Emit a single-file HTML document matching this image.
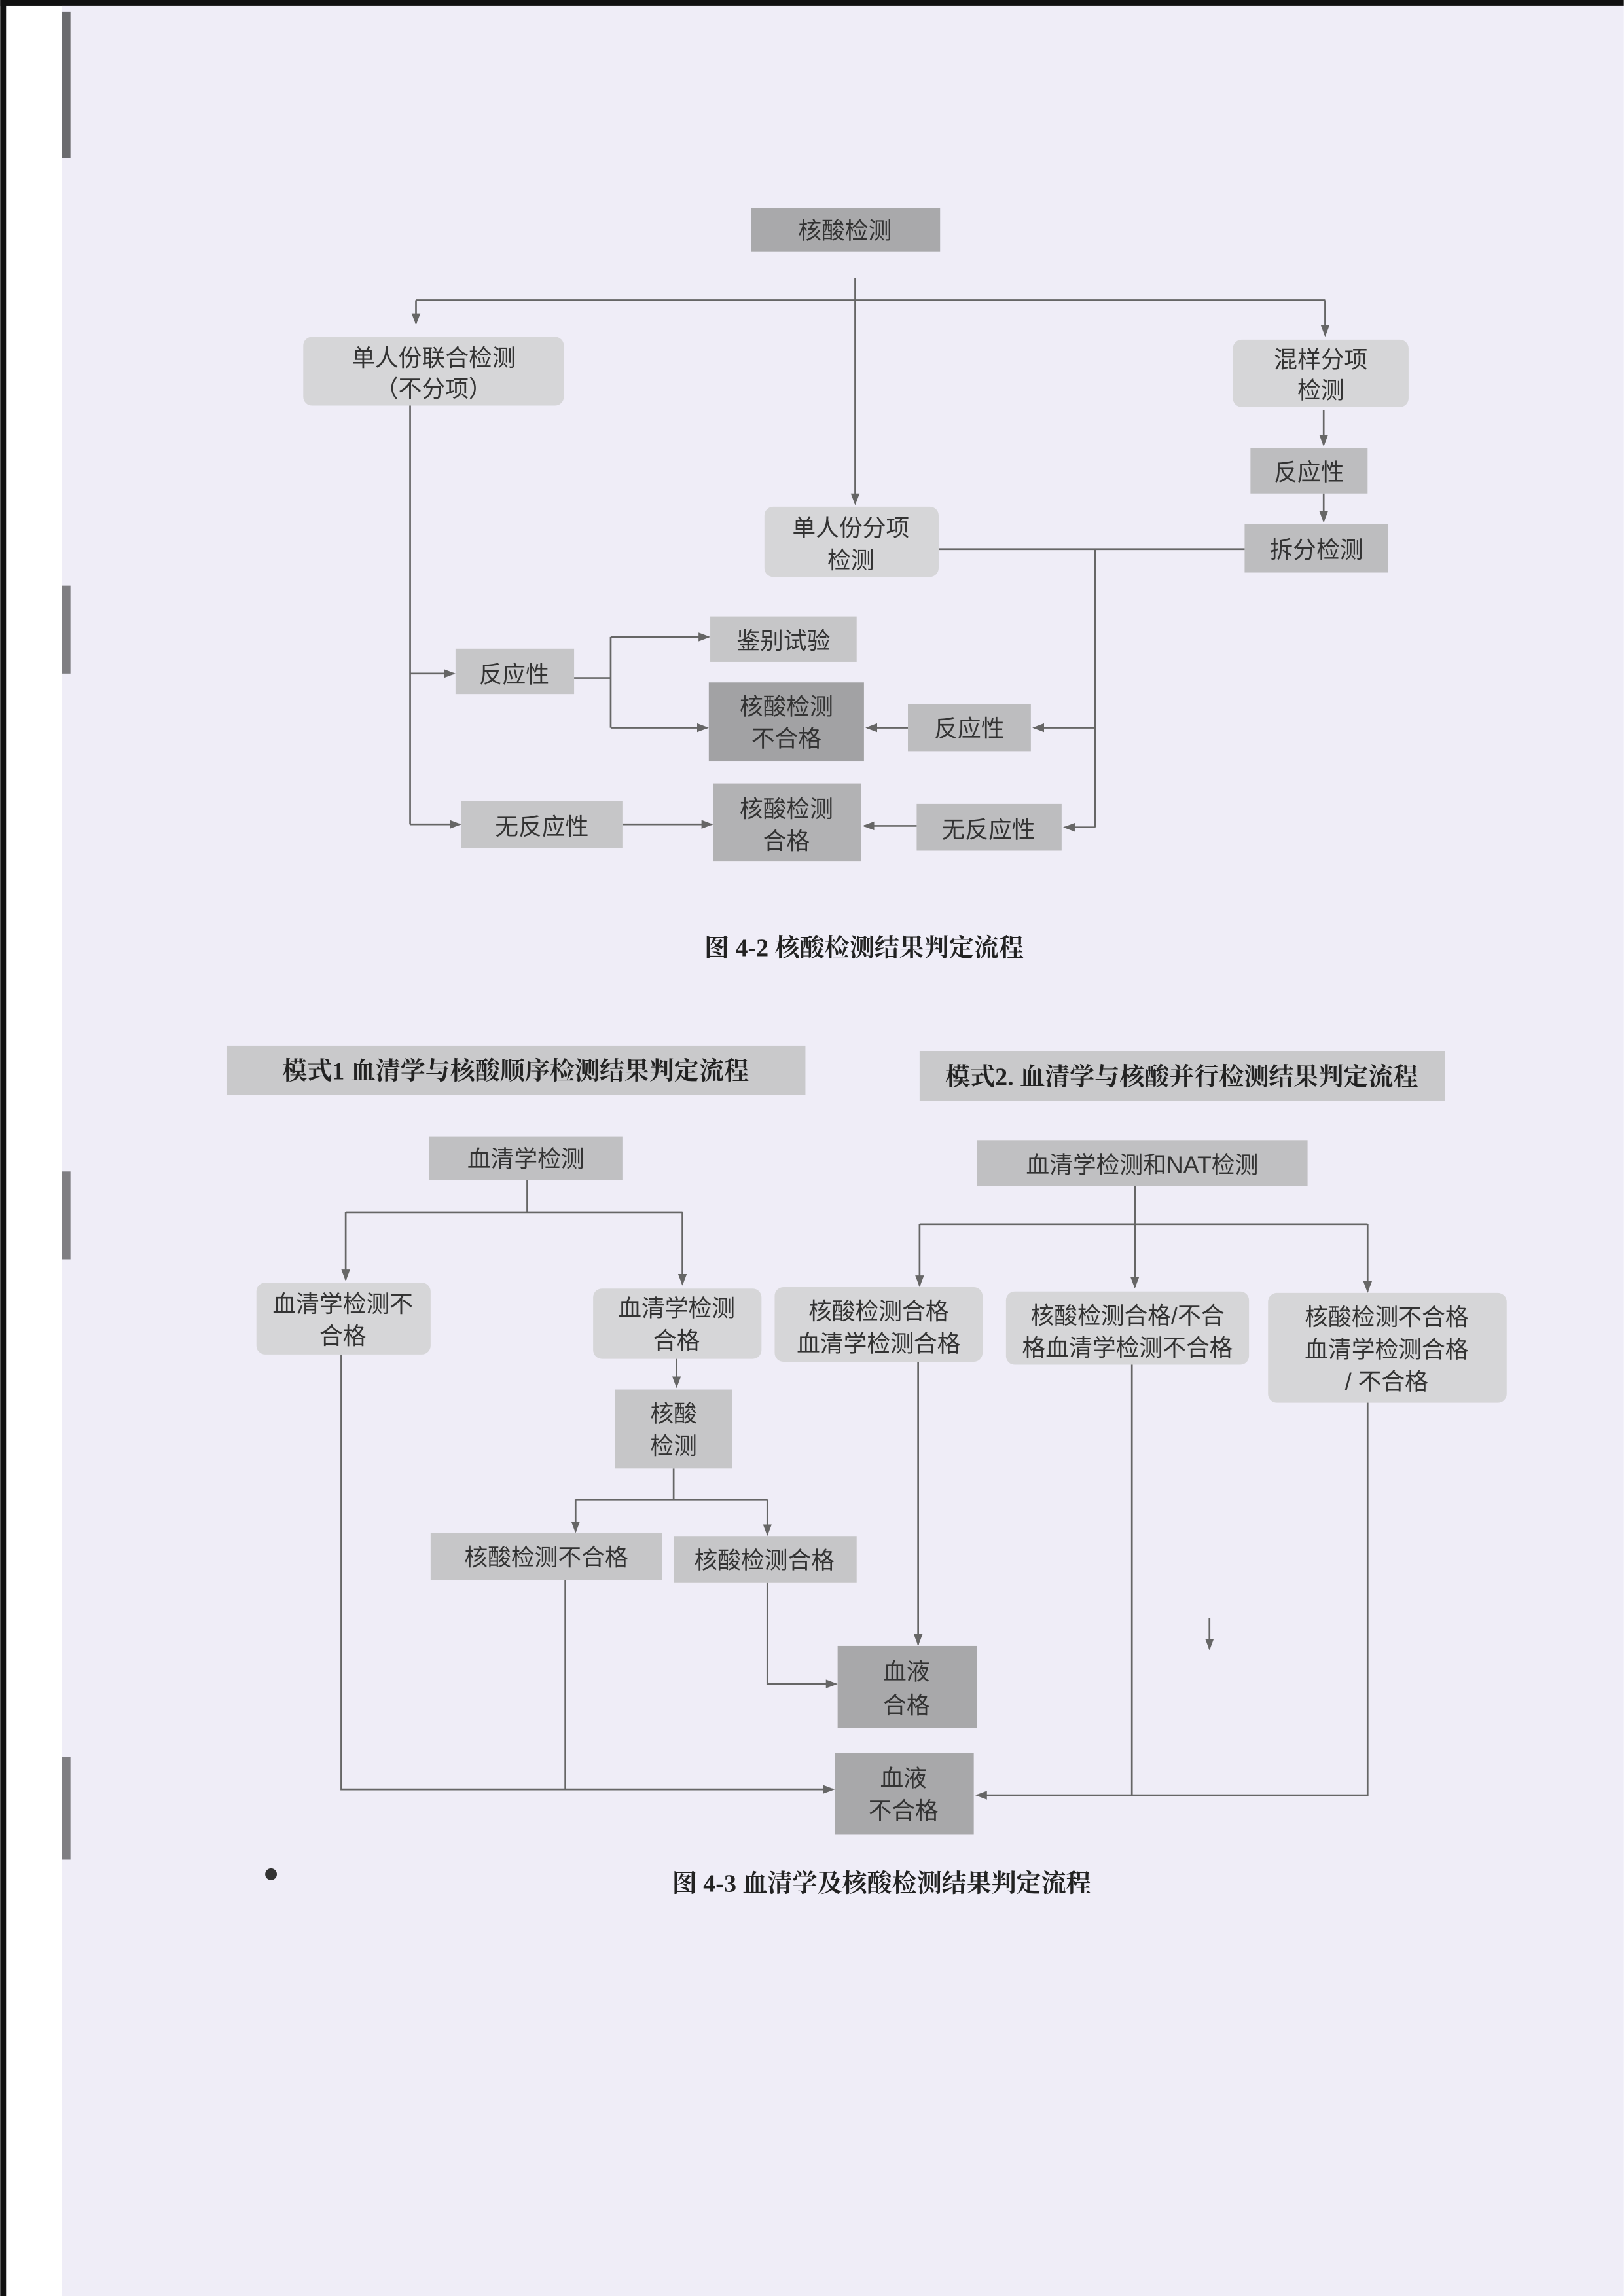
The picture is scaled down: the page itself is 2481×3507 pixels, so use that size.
<!DOCTYPE html>
<html><head><meta charset="utf-8"><style>
html,body{margin:0;padding:0;background:#fff;}
svg{display:block}
text{font-family:"Liberation Sans","Noto Sans CJK SC",sans-serif;fill:#333;font-size:16px;text-anchor:middle}
.b{font-family:"Liberation Serif","Noto Serif CJK SC",serif;font-weight:bold;fill:#222;font-size:17px}
.l{stroke:#666;stroke-width:1.2;fill:none}
</style></head><body>
<svg width="2481" height="3507" viewBox="0 0 1109 1568" xmlns="http://www.w3.org/2000/svg">
<defs><marker id="a" markerWidth="8" markerHeight="8" refX="7" refY="4" orient="auto" markerUnits="userSpaceOnUse"><path d="M0,1 L8,4 L0,7 z" fill="#666"/></marker></defs>
<rect x="0" y="0" width="1109" height="1568" fill="#fff"/>
<rect x="0" y="0" width="4" height="1568" fill="#111"/>
<rect x="0" y="0" width="1109" height="4" fill="#111"/>
<rect x="42" y="4" width="1067" height="1564" fill="#efedf7"/>
<rect x="42" y="8" width="6" height="100" fill="#333" opacity="0.7"/>
<rect x="42" y="400" width="6" height="60" fill="#333" opacity="0.6"/>
<rect x="42" y="800" width="6" height="60" fill="#333" opacity="0.6"/>
<rect x="42" y="1200" width="6" height="70" fill="#333" opacity="0.6"/>

<!-- Top diagram -->
<g class="l">
<path d="M584 190 V344" marker-end="url(#a)"/>
<path d="M284 205 H905"/>
<path d="M284 205 V221" marker-end="url(#a)"/>
<path d="M905 205 V229" marker-end="url(#a)"/>
<path d="M904 280 V304" marker-end="url(#a)"/>
<path d="M904 337 V356" marker-end="url(#a)"/>
<path d="M641 375 H850"/>
<path d="M748 375 V565"/>
<path d="M748 497 H706" marker-end="url(#a)"/>
<path d="M748 565 H727" marker-end="url(#a)"/>
<path d="M280 277 V563"/>
<path d="M280 460 H310" marker-end="url(#a)"/>
<path d="M280 563 H314" marker-end="url(#a)"/>
<path d="M392 463 H417 M417 435 V497"/>
<path d="M417 435 H484" marker-end="url(#a)"/>
<path d="M417 497 H483" marker-end="url(#a)"/>
<path d="M620 497 H592" marker-end="url(#a)"/>
<path d="M425 563 H486" marker-end="url(#a)"/>
<path d="M626 564 H590" marker-end="url(#a)"/>
</g>
<rect x="513" y="142" width="129" height="30" fill="#a9a9ab"/><text x="577" y="163">核酸检测</text>
<rect x="207" y="230" width="178" height="47" rx="6" fill="#d6d6d8"/><text x="296" y="250">单人份联合检测</text><text x="296" y="271">（不分项）</text>
<rect x="842" y="232" width="120" height="46" rx="6" fill="#d6d6d8"/><text x="902" y="251">混样分项</text><text x="902" y="272">检测</text>
<rect x="854" y="306" width="80" height="31" fill="#bdbdbf"/><text x="894" y="328">反应性</text>
<rect x="850" y="358" width="98" height="33" fill="#bdbdbf"/><text x="899" y="381">拆分检测</text>
<rect x="522" y="346" width="119" height="48" rx="6" fill="#d6d6d8"/><text x="581" y="366">单人份分项</text><text x="581" y="388">检测</text>
<rect x="311" y="443" width="81" height="31" fill="#c6c6c8"/><text x="351" y="466">反应性</text>
<rect x="485" y="421" width="100" height="31" fill="#c6c6c8"/><text x="535" y="443">鉴别试验</text>
<rect x="484" y="466" width="106" height="54" fill="#a2a2a4"/><text x="537" y="488">核酸检测</text><text x="537" y="510">不合格</text>
<rect x="620" y="481" width="84" height="32" fill="#bdbdbf"/><text x="662" y="503">反应性</text>
<rect x="315" y="547" width="110" height="32" fill="#c6c6c8"/><text x="370" y="570">无反应性</text>
<rect x="487" y="535" width="101" height="53" fill="#b2b2b4"/><text x="537" y="558">核酸检测</text><text x="537" y="580">合格</text>
<rect x="626" y="549" width="99" height="32" fill="#bdbdbf"/><text x="675" y="572">无反应性</text>
<text class="b" x="590" y="653">图 4-2 核酸检测结果判定流程</text>

<!-- Bottom diagram -->
<rect x="155" y="714" width="395" height="34" fill="#c9c9cb"/><text class="b" x="352" y="737">模式1 血清学与核酸顺序检测结果判定流程</text>
<rect x="628" y="718" width="359" height="34" fill="#c9c9cb"/><text class="b" x="807" y="741">模式2. 血清学与核酸并行检测结果判定流程</text>
<g class="l">
<path d="M360 806 V828 M236 828 H466"/>
<path d="M236 828 V874" marker-end="url(#a)"/>
<path d="M466 828 V877" marker-end="url(#a)"/>
<path d="M462 928 V947" marker-end="url(#a)"/>
<path d="M460 1003 V1024 M393 1024 H524"/>
<path d="M393 1024 V1046" marker-end="url(#a)"/>
<path d="M524 1024 V1048" marker-end="url(#a)"/>
<path d="M524 1081 V1150 H571" marker-end="url(#a)"/>
<path d="M627 930 V1123" marker-end="url(#a)"/>
<path d="M233 925 V1222 H569" marker-end="url(#a)"/>
<path d="M386 1079 V1222"/>
<path d="M934 957 V1226 H667" marker-end="url(#a)"/>
<path d="M773 932 V1226"/>
<path d="M775 810 V879" marker-end="url(#a)"/>
<path d="M628 836 H934"/>
<path d="M628 836 V878" marker-end="url(#a)"/>
<path d="M934 836 V882" marker-end="url(#a)"/>
<path d="M826 1105 V1126" marker-end="url(#a)"/>
</g>
<rect x="293" y="776" width="132" height="30" fill="#c0c0c2"/><text x="359" y="797">血清学检测</text>
<rect x="667" y="779" width="226" height="31" fill="#c0c0c2"/><text x="780" y="801">血清学检测和NAT检测</text>
<rect x="175" y="876" width="119" height="49" rx="6" fill="#d6d6d8"/><text x="234" y="896">血清学检测不</text><text x="234" y="918">合格</text>
<rect x="405" y="880" width="115" height="48" rx="6" fill="#d6d6d8"/><text x="462" y="899">血清学检测</text><text x="462" y="921">合格</text>
<rect x="420" y="949" width="80" height="54" fill="#c6c6c8"/><text x="460" y="971">核酸</text><text x="460" y="993">检测</text>
<rect x="294" y="1047" width="158" height="32" fill="#c6c6c8"/><text x="373" y="1069">核酸检测不合格</text>
<rect x="460" y="1049" width="125" height="32" fill="#c6c6c8"/><text x="522" y="1071">核酸检测合格</text>
<rect x="572" y="1124" width="95" height="56" fill="#a8a8aa"/><text x="619" y="1147">血液</text><text x="619" y="1170">合格</text>
<rect x="570" y="1197" width="95" height="56" fill="#a8a8aa"/><text x="617" y="1220">血液</text><text x="617" y="1242">不合格</text>
<rect x="529" y="879" width="142" height="51" rx="6" fill="#d6d6d8"/><text x="600" y="901">核酸检测合格</text><text x="600" y="923">血清学检测合格</text>
<rect x="687" y="882" width="166" height="50" rx="6" fill="#d6d6d8"/><text x="770" y="904">核酸检测合格/不合</text><text x="770" y="926">格血清学检测不合格</text>
<rect x="866" y="883" width="163" height="75" rx="6" fill="#d6d6d8"/><text x="947" y="905">核酸检测不合格</text><text x="947" y="927">血清学检测合格</text><text x="947" y="949">/ 不合格</text>
<text class="b" x="602" y="1292">图 4-3 血清学及核酸检测结果判定流程</text>
<circle cx="185" cy="1280" r="4" fill="#333"/>
</svg>
</body></html>
